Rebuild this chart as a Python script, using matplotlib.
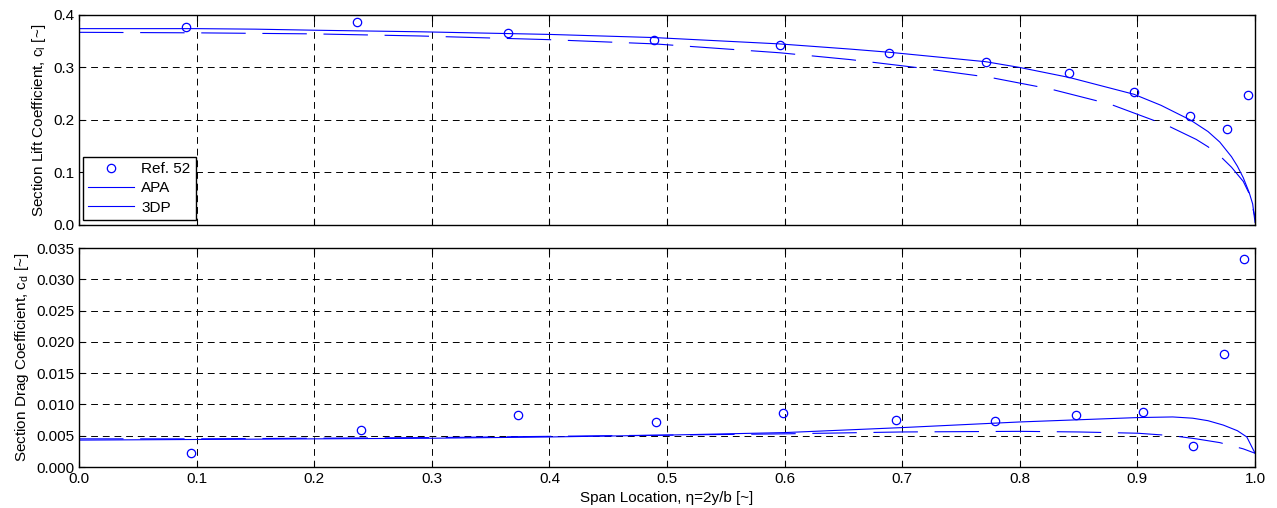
import numpy as np
import matplotlib.pyplot as plt
from matplotlib.lines import Line2D

plt.rcParams['font.family'] = ['Liberation Sans', 'DejaVu Sans']
plt.rcParams['mathtext.fontset'] = 'custom'
plt.rcParams['mathtext.rm'] = 'Liberation Sans'
plt.rcParams['mathtext.it'] = 'Liberation Sans'
plt.rcParams['font.size'] = 11

# Ref. 52 measured data
ref_eta_cl = [0.091, 0.236, 0.365, 0.489, 0.596, 0.689, 0.771, 0.842, 0.897, 0.945, 0.976, 0.994]
ref_cl = [0.377, 0.387, 0.366, 0.352, 0.343, 0.328, 0.311, 0.289, 0.253, 0.208, 0.183, 0.248]
ref_eta_cd = [0.095, 0.240, 0.373, 0.491, 0.599, 0.695, 0.779, 0.848, 0.905, 0.947, 0.974, 0.991]
ref_cd = [0.0022, 0.0059, 0.0083, 0.0072, 0.0087, 0.0075, 0.0073, 0.0083, 0.0088, 0.0033, 0.0181, 0.0333]

# APA lift
apa_eta_cl = [0.0, 0.1, 0.15, 0.2, 0.29, 0.4, 0.489, 0.595, 0.656, 0.689, 0.771, 0.8,
              0.842, 0.897, 0.92, 0.945, 0.96, 0.97, 0.98, 0.985, 0.99, 0.995, 0.998, 1.0]
apa_cl = [0.374, 0.374, 0.373, 0.371, 0.368, 0.363, 0.357, 0.345, 0.335, 0.329, 0.311, 0.300,
          0.281, 0.249, 0.228, 0.200, 0.178, 0.158, 0.130, 0.112, 0.090, 0.062, 0.040, 0.005]
# 3DP lift
tdp_eta_cl = [0.0, 0.1, 0.2, 0.29, 0.4, 0.489, 0.596, 0.656, 0.712, 0.775, 0.826, 0.877,
              0.925, 0.95, 0.96, 0.97, 0.98, 0.99, 0.995, 1.0]
tdp_cl = [0.367, 0.366, 0.364, 0.360, 0.353, 0.345, 0.328, 0.315, 0.300, 0.281, 0.259, 0.230,
          0.190, 0.163, 0.149, 0.132, 0.110, 0.083, 0.060, 0.015]

# APA drag
apa_eta_cd = [0.0, 0.1, 0.2, 0.3, 0.4, 0.5, 0.6, 0.7, 0.8, 0.9, 0.93, 0.947, 0.96, 0.973,
              0.985, 0.993, 1.0]
apa_cd = [0.0043, 0.0044, 0.0045, 0.0046, 0.0048, 0.0051, 0.0055, 0.0063, 0.0072, 0.0079,
          0.0080, 0.0078, 0.0074, 0.0067, 0.0058, 0.0048, 0.0022]
# 3DP drag
tdp_eta_cd = [0.0, 0.1, 0.2, 0.3, 0.4, 0.5, 0.6, 0.7, 0.8, 0.85, 0.9, 0.93, 0.95, 0.97,
              0.99, 1.0]
tdp_cd = [0.0045, 0.0045, 0.0046, 0.0047, 0.0049, 0.0051, 0.0053, 0.0056, 0.0057, 0.0056,
          0.0054, 0.0050, 0.0045, 0.0039, 0.0029, 0.0022]

blue = '#0000ff'

fig = plt.figure(figsize=(12.77, 5.08), dpi=100)
ax1 = fig.add_axes([0.0619, 0.5571, 0.9209, 0.4134])
ax2 = fig.add_axes([0.0619, 0.0807, 0.9209, 0.4311])


def style(ax):
    ax.set_xlim(0, 1)
    ax.set_xticks(np.arange(0, 1.01, 0.1))
    ax.grid(True, color='black', linestyle=(0, (7, 5)), linewidth=0.7)
    ax.tick_params(direction='in', top=True, right=True, length=4, width=0.8, labelsize=11)
    for s in ax.spines.values():
        s.set_linewidth(1.0)


for ax, ex, ey, ax_, ay, tx, ty in [
        (ax1, ref_eta_cl, ref_cl, apa_eta_cl, apa_cl, tdp_eta_cl, tdp_cl),
        (ax2, ref_eta_cd, ref_cd, apa_eta_cd, apa_cd, tdp_eta_cd, tdp_cd)]:
    ax.plot(ex, ey, 'o', mfc='none', mec=blue, ms=6, mew=0.9)
    ax.plot(ax_, ay, '-', color=blue, lw=0.8)
    ax.plot(tx, ty, color=blue, lw=0.8, dashes=(40, 15))
    style(ax)

ax1.set_ylim(0, 0.4)
ax1.set_yticks(np.arange(0, 0.41, 0.1))
ax1.set_yticklabels(['%.1f' % v for v in np.arange(0, 0.41, 0.1)])
ax1.set_xticklabels([])
ax1.set_ylabel('Section Lift Coefficient, c$_{\\mathrm{l}}$ [~]', labelpad=4)

ax2.set_ylim(0, 0.035)
ax2.set_yticks(np.arange(0, 0.0351, 0.005))
ax2.set_yticklabels(['%.3f' % v for v in np.arange(0, 0.0351, 0.005)])
ax2.set_xticklabels(['%.1f' % v for v in np.arange(0, 1.01, 0.1)])
ax2.set_ylabel('Section Drag Coefficient, c$_{\\mathrm{d}}$ [~]', labelpad=4)
ax2.set_xlabel('Span Location, η=2y/b [~]', labelpad=4)

handles = [Line2D([], [], ls='none', marker='o', mfc='none', mec=blue, ms=6, mew=0.9),
           Line2D([], [], color=blue, lw=0.8),
           Line2D([], [], color=blue, lw=0.8)]
leg = ax1.legend(handles, ['Ref. 52', 'APA', '3DP'], loc='lower left',
                 bbox_to_anchor=(0.003, 0.024), borderaxespad=0, fancybox=False,
                 handlelength=3, fontsize=11, labelspacing=0.35, borderpad=0.35,
                 handletextpad=0.5, framealpha=1)
leg.get_frame().set_edgecolor('black')
leg.get_frame().set_linewidth(1.0)

fig.savefig('out.png', dpi=100)
